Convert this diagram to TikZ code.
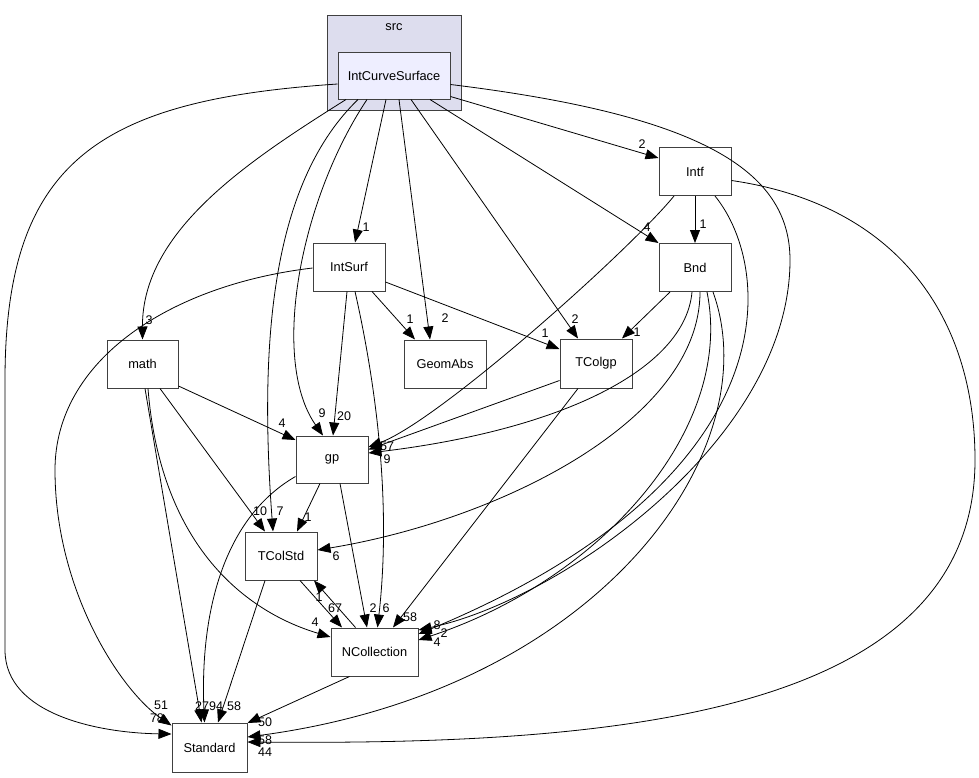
\documentclass[tikz,border=0pt]{standalone}
\usepackage{fontspec}
\setmainfont{Liberation Sans}
\usetikzlibrary{arrows.meta}
\definecolor{srcfill}{HTML}{DDDDEE}
\definecolor{icsfill}{HTML}{EEEEFF}
\definecolor{bordergray}{HTML}{404040}
\begin{document}
\begin{tikzpicture}[x=1pt,y=-1pt,
  box/.style={draw=bordergray, line width=1pt, fill=white, inner sep=0pt, font=\fontsize{12.8}{14}\selectfont},
  edge/.style={draw=black, line width=0.8pt, -{Triangle[length=13pt,width=10pt]}},
  lbl/.style={font=\fontsize{12.5}{13}\selectfont, inner sep=0pt}]
\useasboundingbox (0,0) rectangle (979,777);
% cluster
\node[box, fill=srcfill, minimum width=134pt, minimum height=95pt] (src) at (394.5,63) {};
\node[lbl, font=\fontsize{12.8}{14}\selectfont] (srclbl) at (394,27) {src};
% nodes
\node[box, fill=icsfill, minimum width=112pt, minimum height=47pt] (ics) at (394,75.5) {IntCurveSurface};
\node[box, minimum width=72pt, minimum height=48pt] (intf) at (695,171.5) {Intf};
\node[box, minimum width=72pt, minimum height=48pt] (bnd) at (695,267.5) {Bnd};
\node[box, minimum width=72pt, minimum height=48pt] (intsurf) at (349,267) {IntSurf};
\node[box, minimum width=71pt, minimum height=48pt] (math) at (142.5,364) {math};
\node[box, minimum width=82pt, minimum height=48pt] (geomabs) at (445,364) {GeomAbs};
\node[box, minimum width=72pt, minimum height=49pt] (tcolgp) at (596,363.5) {TColgp};
\node[box, minimum width=72pt, minimum height=47pt] (gp) at (332,459.5) {gp};
\node[box, minimum width=72pt, minimum height=48pt] (tcolstd) at (281,556) {TColStd};
\node[box, minimum width=87pt, minimum height=48pt] (ncoll) at (374.5,652) {NCollection};
\node[box, minimum width=75pt, minimum height=49pt] (std) at (209.5,747.5) {Standard};

% IntCurveSurface edges
\draw[edge] ([yshift=-8.5pt]ics.west) .. controls (100,100) and (5,160) .. (5,380) -- (5,650) .. controls (5,715) and (100,733) .. ([yshift=13.5pt]std.west);
\draw[edge] ([xshift=-48pt]ics.south) .. controls (250,160) and (142,230) .. (math.north);
\draw[edge] ([xshift=-36pt]ics.south) .. controls (275,180) and (258,330) .. ([xshift=-8pt]tcolstd.north);
\draw[edge] ([xshift=-27pt]ics.south) .. controls (300,200) and (270,360) .. ([xshift=-9pt]gp.north);
\draw[edge] ([xshift=-8pt]ics.south) -- ([xshift=6pt]intsurf.north);
\draw[edge] ([xshift=5pt]ics.south) -- ([xshift=-15pt]geomabs.north);
\draw[edge] ([xshift=17pt]ics.south) -- ([xshift=-18pt]tcolgp.north);
\draw[edge] ([xshift=36pt]ics.south) -- (bnd.north west);
\draw[edge] ([yshift=-21pt]ics.east) -- ([yshift=13.5pt]intf.west);
\draw[edge] ([yshift=-9pt]ics.east) .. controls (700,115) and (790,170) .. (790,260) .. controls (790,440) and (560,600) .. ([yshift=22pt]ncoll.east);

% Intf edges
\draw[edge] ([xshift=-21pt]intf.south) .. controls (630,250) and (440,420) .. ([yshift=12.5pt]gp.east);
\draw[edge] (intf) -- (bnd);
\draw[edge] ([xshift=20pt]intf.south) .. controls (775,270) and (790,480) .. ([yshift=18pt]ncoll.east);
\draw[edge] ([yshift=-9pt]intf.east) .. controls (900,205) and (975,320) .. (975,460) .. controls (975,720) and (600,745) .. ([yshift=5.5pt]std.east);

% Bnd edges
\draw[edge] ([xshift=-25pt]bnd.south) -- ([xshift=26pt]tcolgp.north);
\draw[edge] ([xshift=-3pt]bnd.south) .. controls (685,370) and (560,430) .. ([yshift=6.5pt]gp.east);
\draw[edge] ([xshift=5pt]bnd.south) .. controls (700,420) and (500,520) .. ([yshift=6pt]tcolstd.east);
\draw[edge] ([xshift=12pt]bnd.south) .. controls (735,430) and (600,580) .. ([yshift=12pt]ncoll.east);
\draw[edge] ([xshift=18pt]bnd.south) .. controls (770,450) and (600,690) .. ([yshift=10.5pt]std.east);

% IntSurf edges
\draw[edge] ([yshift=-1pt]intsurf.west) .. controls (170,285) and (55,360) .. (55,470) .. controls (55,590) and (120,690) .. ([yshift=22pt]std.west);
\draw[edge] ([xshift=-2pt]intsurf.south) -- ([xshift=1pt]gp.north);
\draw[edge] ([xshift=6pt]intsurf.south) .. controls (375,380) and (392,500) .. ([xshift=3pt]ncoll.north);
\draw[edge] ([xshift=23pt]intsurf.south) -- ([xshift=-30pt]geomabs.north);
\draw[edge] ([yshift=-15pt]intsurf.east) -- ([yshift=14.5pt]tcolgp.west);

% math edges
\draw[edge] ([yshift=-22pt]math.east) -- ([yshift=19.5pt]gp.west);
\draw[edge] ([xshift=17.5pt]math.south) -- ([xshift=-16pt]tcolstd.north);
\draw[edge] ([xshift=5.5pt]math.south) .. controls (160,540) and (240,610) .. ([yshift=15pt]ncoll.west);
\draw[edge] ([xshift=2.5pt]math.south) -- ([xshift=-8pt]std.north);

% gp edges
\draw[edge] ([xshift=-12pt]gp.south) -- ([xshift=16pt]tcolstd.north);
\draw[edge] ([xshift=8pt]gp.south) -- ([xshift=-7.5pt]ncoll.north);
\draw[edge] ([yshift=-17pt]gp.west) .. controls (220,520) and (200,620) .. ([xshift=-5pt]std.north);

% TColgp edges
\draw[edge] ([yshift=-17pt]tcolgp.west) -- ([yshift=10pt]gp.east);
\draw[edge] ([xshift=-18pt]tcolgp.south) -- ([xshift=18.5pt]ncoll.north);

% TColStd / NCollection edges
\draw[edge] ([xshift=19pt]tcolstd.south) -- ([xshift=-32.5pt]ncoll.north);
\draw[edge] ([xshift=-19pt]ncoll.north) -- ([xshift=33pt]tcolstd.south);
\draw[edge] ([xshift=-16pt]tcolstd.south) -- ([xshift=8.5pt]std.north);
\draw[edge] ([xshift=-25pt]ncoll.south) -- ([yshift=24.5pt]std.east);

% labels
\node[lbl] (l1) at (157,718) {78};
\node[lbl] (l2) at (149,320) {3};
\node[lbl] (l3) at (280,511) {7};
\node[lbl] (l4) at (322,413) {9};
\node[lbl] (l5) at (366,227) {1};
\node[lbl] (l6) at (445,318) {2};
\node[lbl] (l7) at (575,319) {2};
\node[lbl] (l8) at (647,227) {4};
\node[lbl] (l9) at (642,144) {2};
\node[lbl] (l10) at (437,625) {8};
\node[lbl] (l11) at (383.5,446) {5};
\node[lbl] (l12) at (703,224) {1};
\node[lbl] (l13) at (444,633) {2};
\node[lbl] (l14) at (265,752) {44};
\node[lbl] (l15) at (637,332) {1};
\node[lbl] (l16) at (387,459) {9};
\node[lbl] (l17) at (336,556) {6};
\node[lbl] (l18) at (437,642) {4};
\node[lbl] (l19) at (265,740) {58};
\node[lbl] (l20) at (161,705) {51};
\node[lbl] (l21) at (344,416) {20};
\node[lbl] (l22) at (386,608) {6};
\node[lbl] (l23) at (410,319) {1};
\node[lbl] (l24) at (545,333) {1};
\node[lbl] (l25) at (282,423) {4};
\node[lbl] (l26) at (260,511) {10};
\node[lbl] (l27) at (315,622) {4};
\node[lbl] (l28) at (202,706) {27};
\node[lbl] (l29) at (308,517) {1};
\node[lbl] (l30) at (373,608) {2};
\node[lbl] (l31) at (216,706) {94};
\node[lbl] (l32) at (390.5,446) {7};
\node[lbl] (l33) at (410,617) {58};
\node[lbl] (l34) at (335,608) {67};
\node[lbl] (l35) at (319,597) {1};
\node[lbl] (l36) at (234,706) {58};
\node[lbl] (l37) at (265,722) {50};
\end{tikzpicture}
\end{document}
